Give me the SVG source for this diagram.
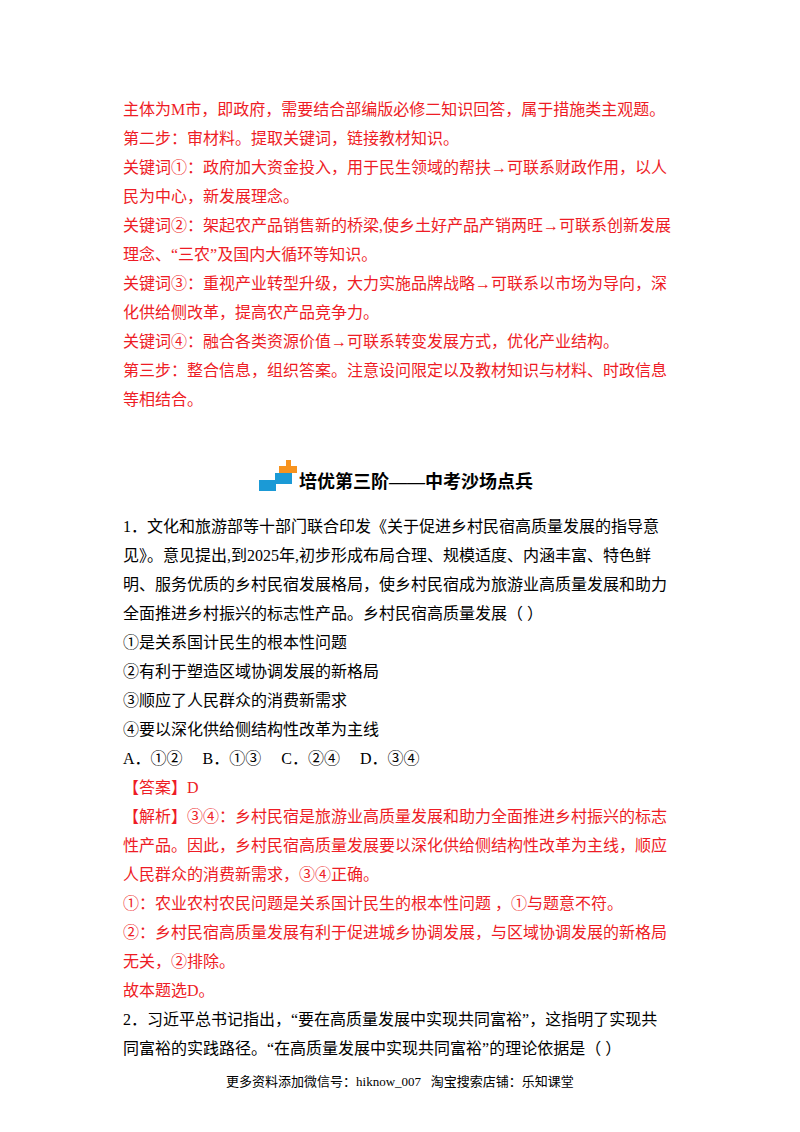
<svg xmlns="http://www.w3.org/2000/svg" width="800" height="1132" viewBox="0 0 800 1132">
<style>
text{font-family:"Liberation Serif","Noto Sans CJK SC",serif;font-size:16px}
.r{fill:#ee1c25}
.k{fill:#000}
</style>
<rect width="800" height="1132" fill="#fff"/>
<g id="part1" class="r" transform="translate(0,3)">
<text x="123" y="112">主体为M市，即政府，需要结合部编版必修二知识回答，属于措施类主观题。</text>
<text x="123" y="141">第二步：审材料。提取关键词，链接教材知识。</text>
<text x="123" y="170">关键词①：政府加大资金投入，用于民生领域的帮扶→可联系财政作用，以人</text>
<text x="123" y="199">民为中心，新发展理念。</text>
<text x="123" y="228">关键词②：架起农产品销售新的桥梁,使乡土好产品产销两旺→可联系创新发展</text>
<text x="123" y="257">理念、“三农”及国内大循环等知识。</text>
<text x="123" y="286">关键词③：重视产业转型升级，大力实施品牌战略→可联系以市场为导向，深</text>
<text x="123" y="315">化供给侧改革，提高农产品竞争力。</text>
<text x="123" y="344">关键词④：融合各类资源价值→可联系转变发展方式，优化产业结构。</text>
<text x="123" y="373">第三步：整合信息，组织答案。注意设问限定以及教材知识与材料、时政信息</text>
<text x="123" y="402">等相结合。</text>
</g>
<g id="heading">
<rect x="286" y="460" width="5" height="6" fill="#f7931e"/>
<rect x="279" y="466" width="18" height="7" fill="#f7931e"/>
<rect x="275" y="473" width="17" height="11" fill="#1b9ad6"/>
<rect x="259" y="480" width="17" height="11" fill="#1b9ad6"/>
<text x="299" y="488" font-weight="bold" style="font-size:18px">培优第三阶——中考沙场点兵</text>
</g>
<g transform="translate(0,3)">
<g id="q1" class="k">
<text x="123" y="529">1．文化和旅游部等十部门联合印发《关于促进乡村民宿高质量发展的指导意</text>
<text x="123" y="558">见》。意见提出,到2025年,初步形成布局合理、规模适度、内涵丰富、特色鲜</text>
<text x="123" y="587">明、服务优质的乡村民宿发展格局，使乡村民宿成为旅游业高质量发展和助力</text>
<text x="123" y="616">全面推进乡村振兴的标志性产品。乡村民宿高质量发展（    ）</text>
<text x="123" y="645">①是关系国计民生的根本性问题</text>
<text x="123" y="674">②有利于塑造区域协调发展的新格局</text>
<text x="123" y="703">③顺应了人民群众的消费新需求</text>
<text x="123" y="732">④要以深化供给侧结构性改革为主线</text>
<text x="123" y="761" xml:space="preserve">A．①②     B．①③     C．②④     D．③④</text>
</g>
<g id="a1" class="r">
<text x="123" y="790">【答案】D</text>
<text x="123" y="819">【解析】③④：乡村民宿是旅游业高质量发展和助力全面推进乡村振兴的标志</text>
<text x="123" y="848">性产品。因此，乡村民宿高质量发展要以深化供给侧结构性改革为主线，顺应</text>
<text x="123" y="877">人民群众的消费新需求，③④正确。</text>
<text x="123" y="906">①：农业农村农民问题是关系国计民生的根本性问题 ，①与题意不符。</text>
<text x="123" y="935">②：乡村民宿高质量发展有利于促进城乡协调发展，与区域协调发展的新格局</text>
<text x="123" y="964">无关，②排除。</text>
<text x="123" y="993">故本题选D。</text>
</g>
<g id="q2" class="k">
<text x="123" y="1022">2．习近平总书记指出，“要在高质量发展中实现共同富裕”，这指明了实现共</text>
<text x="123" y="1051">同富裕的实践路径。“在高质量发展中实现共同富裕”的理论依据是（    ）</text>
</g>
</g>
<text id="footer" x="400" y="1086" text-anchor="middle" style="font-size:13px" xml:space="preserve">更多资料添加微信号：hiknow_007   淘宝搜索店铺：乐知课堂</text>
</svg>
